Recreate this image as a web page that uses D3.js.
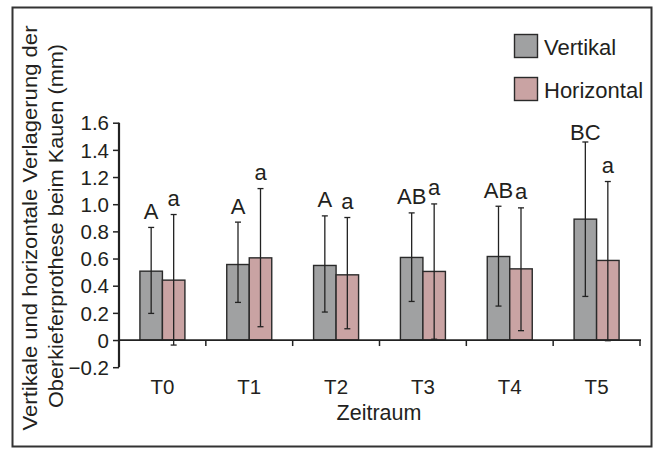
<!DOCTYPE html>
<html><head><meta charset="utf-8">
<script src="https://cdn.jsdelivr.net/npm/d3@7"></script>
<style>
html,body{margin:0;padding:0;background:#fff;}
text{font-family:"Liberation Sans",Arial,sans-serif;fill:#231f20;}
</style></head>
<body><svg id="c" width="656" height="450"></svg>
<script>
const categories = ["T0","T1","T2","T3","T4","T5"];
const seriesNames = ["Vertikal","Horizontal"];
const vertikalMean = [0.507,0.556,0.549,0.608,0.615,0.890];
const vertikalHigh = [0.829,0.868,0.914,0.936,0.985,1.458];
const vertikalLow  = [0.196,0.277,0.206,0.284,0.250,0.321];
const horizontalMean = [0.441,0.605,0.480,0.505,0.524,0.586];
const horizontalHigh = [0.924,1.115,0.902,1.002,0.973,1.167];
const horizontalLow  = [-0.037,0.098,0.083,0.006,0.069,-0.005];
const vertikalLetters = ["A","A","A","AB","AB","BC"];
const horizontalLetters = ["a","a","a","a","a","a"];
const yTicks = [-0.2,0,0.2,0.4,0.6,0.8,1.0,1.2,1.4,1.6];
const yTickLabels = ["\u22120.2","0","0.2","0.4","0.6","0.8","1.0","1.2","1.4","1.6"];

const colors = {Vertikal:"#a0a1a2", Horizontal:"#c9a3a3"};
const svg = d3.select("#c");

// frame
svg.append("rect").attr("x",12.5).attr("y",7.5).attr("width",639).attr("height",439)
  .attr("fill","none").attr("stroke","#333").attr("stroke-width",2);

const y = d3.scaleLinear().domain([-0.2,1.6]).range([367.2,122.7]);
const x = d3.scaleBand().domain(categories).range([119,640]).padding(0);
const barW = 22.5;
const xs = d3.scaleOrdinal().domain(seriesNames).range([-barW, 0]);

const rows = [];
categories.forEach((c,i)=>{
  rows.push({cat:c, s:"Vertikal", m:vertikalMean[i], hi:vertikalHigh[i], lo:vertikalLow[i], lab:vertikalLetters[i]});
  rows.push({cat:c, s:"Horizontal", m:horizontalMean[i], hi:horizontalHigh[i], lo:horizontalLow[i], lab:horizontalLetters[i]});
});
const cx = d => x(d.cat)+x.bandwidth()/2 + xs(d.s) + barW/2;

// bars
svg.append("g").selectAll("rect").data(rows).join("rect")
  .attr("x",d=>cx(d)-barW/2).attr("width",barW)
  .attr("y",d=>y(d.m)).attr("height",d=>y(0)-y(d.m))
  .attr("fill",d=>colors[d.s]).attr("stroke","#2a2a2a").attr("stroke-width",1.4);

// x axis at zero
const xAxis = svg.append("g");
xAxis.append("line").attr("x1",119).attr("x2",641).attr("y1",y(0)).attr("y2",y(0))
  .attr("stroke","#222").attr("stroke-width",1.8);
xAxis.selectAll("line.t").data(categories).join("line").attr("class","t")
  .attr("x1",d=>x(d)+x.bandwidth()).attr("x2",d=>x(d)+x.bandwidth())
  .attr("y1",y(0)).attr("y2",y(0)+6).attr("stroke","#222").attr("stroke-width",1.5);
xAxis.selectAll("text").data(categories).join("text")
  .attr("x",d=>x(d)+x.bandwidth()/2).attr("y",393.5).attr("text-anchor","middle")
  .attr("font-size",20.5).text(d=>d);

// error bars
const eb = svg.append("g").attr("stroke","#222").attr("stroke-width",1.3);
eb.selectAll("line.v").data(rows).join("line").attr("class","v")
  .attr("x1",cx).attr("x2",cx).attr("y1",d=>y(d.hi)).attr("y2",d=>y(d.lo));
eb.selectAll("line.h").data(rows).join("line").attr("class","h")
  .attr("x1",d=>cx(d)-3).attr("x2",d=>cx(d)+3).attr("y1",d=>y(d.hi)).attr("y2",d=>y(d.hi));
eb.selectAll("line.l").data(rows).join("line").attr("class","l")
  .attr("x1",d=>cx(d)-3).attr("x2",d=>cx(d)+3).attr("y1",d=>y(d.lo)).attr("y2",d=>y(d.lo));

// y axis
const yAxis = d3.axisLeft(y).tickValues(yTicks).tickFormat((d,i)=>yTickLabels[i]).tickSize(6).tickPadding(4);
const ya = svg.append("g").attr("transform","translate(119,0)").call(yAxis);
ya.select(".domain").attr("stroke","#222").attr("stroke-width",2.2).attr("d",`M0,${y(-0.2)}V${y(1.6)}`);
ya.selectAll(".tick line").attr("stroke","#222").attr("stroke-width",1.5);
ya.selectAll(".tick text").attr("font-size",20.5).attr("font-family","Liberation Sans, Arial, sans-serif").attr("fill","#231f20").attr("dy","0.35em");

// significance letters
svg.append("g").selectAll("text").data(rows).join("text")
  .attr("x",cx).attr("y",d=>y(d.hi)-(d.lab==="BC"?1.5:8.5))
  .attr("text-anchor","middle").attr("font-size",22).text(d=>d.lab);

// axis titles
svg.append("text").attr("x",379).attr("y",420).attr("text-anchor","middle").attr("font-size",21.5).text("Zeitraum");
const yt = svg.append("g").attr("transform","translate(0,228) rotate(-90)");
yt.append("text").attr("x",0).attr("y",37).attr("text-anchor","middle").attr("font-size",21)
  .attr("textLength",405).attr("lengthAdjust","spacingAndGlyphs").text("Vertikale und horizontale Verlagerung der");
yt.append("text").attr("x",2).attr("y",63).attr("text-anchor","middle").attr("font-size",21)
  .attr("textLength",364).attr("lengthAdjust","spacingAndGlyphs").text("Oberkieferprothese beim Kauen (mm)");

// legend
const lg = svg.append("g").selectAll("g").data(seriesNames).join("g")
  .attr("transform",(d,i)=>`translate(514.5,${34.5+i*43})`);
lg.append("rect").attr("width",23).attr("height",23).attr("fill",d=>colors[d]).attr("stroke","#2a2a2a").attr("stroke-width",1.4);
lg.append("text").attr("x",29.5).attr("y",20.5).attr("font-size",22).text(d=>d);
</script></body></html>
